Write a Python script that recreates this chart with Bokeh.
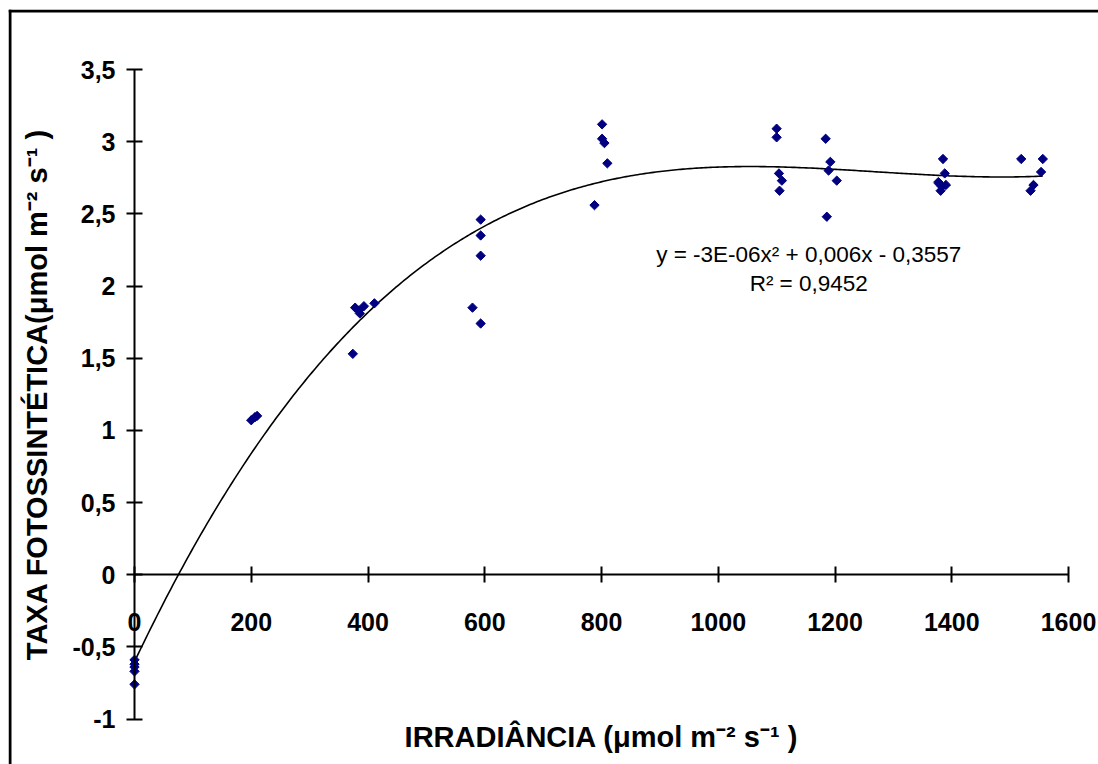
import numpy as np
from bokeh.plotting import figure
from bokeh.models import Range1d, FixedTicker, CustomJSTickFormatter, Label, Span
from bokeh.embed import file_html
from bokeh.resources import INLINE

# Irradiance levels (µmol m-2 s-1) and measured photosynthetic rates
irradiance = [0, 0, 0, 0, 0,
              200, 206, 210,
              374, 378, 384, 386, 393, 411,
              579, 593, 593, 593, 593,
              788, 801, 801, 805, 810,
              1100, 1100, 1104, 1109, 1105,
              1184, 1192, 1189, 1203, 1186,
              1385, 1388, 1377, 1390, 1383, 1381, 1378,
              1519, 1556, 1553, 1540, 1535]
photo_rate = [-0.59, -0.62, -0.64, -0.67, -0.76,
              1.07, 1.09, 1.10,
              1.53, 1.85, 1.83, 1.81, 1.86, 1.88,
              1.85, 1.74, 2.21, 2.35, 2.46,
              2.56, 3.12, 3.02, 2.99, 2.85,
              3.09, 3.03, 2.78, 2.73, 2.66,
              3.02, 2.86, 2.80, 2.73, 2.48,
              2.88, 2.78, 2.72, 2.70, 2.69, 2.66, 2.71,
              2.88, 2.88, 2.79, 2.70, 2.66]

x_ticks = [0, 200, 400, 600, 800, 1000, 1200, 1400, 1600]
y_ticks = [-1, -0.5, 0, 0.5, 1, 1.5, 2, 2.5, 3, 3.5]

x_title = "IRRADIÂNCIA (μmol m⁻² s⁻¹ )"
y_title = "TAXA FOTOSSINTÉTICA(μmol m⁻² s⁻¹ )"
equation_text = "y = -3E-06x² + 0,006x - 0,3557"
r2_text = "R² = 0,9452"

# polynomial trend through the measurements
coef = np.polyfit(irradiance, photo_rate, 3)
trend_x = np.linspace(0, max(irradiance), 400)
trend_y = np.polyval(coef, trend_x)

FONT = "Liberation Sans"

# page geometry: chart area starts a few pixels in and runs off the right/bottom edge
W, H = 1098, 764
FRAME_L, FRAME_T = 8, 9
AX_X0, AX_X1 = 134, 1068      # pixel columns of x = 0 and x = 1600
AX_Y35, AX_YM1 = 69, 718.5    # pixel rows of y = 3.5 and y = -1
px_per_x = (AX_X1 - AX_X0) / (x_ticks[-1] - x_ticks[0])
px_per_y = (AX_YM1 - AX_Y35) / (y_ticks[-1] - y_ticks[0])
x_start = x_ticks[0] - (AX_X0 - FRAME_L) / px_per_x
x_end = x_start + (W - FRAME_L) / px_per_x
y_end = y_ticks[-1] + (AX_Y35 - FRAME_T) / px_per_y
y_start = y_end - (H - FRAME_T) / px_per_y

p = figure(width=W, height=H,
           x_range=Range1d(x_start, x_end), y_range=Range1d(y_start, y_end),
           output_backend="svg", toolbar_location=None,
           min_border_left=FRAME_L, min_border_right=0,
           min_border_top=FRAME_T, min_border_bottom=0)
p.grid.visible = False
p.background_fill_color = "white"
p.border_fill_color = "white"
p.outline_line_color = None

# heavy chart-area border along the top and left edges
p.add_layout(Span(location=y_end - 1.5 / px_per_y, dimension="width",
                  line_color="black", line_width=3))
p.add_layout(Span(location=x_start + 1.5 / px_per_x, dimension="height",
                  line_color="black", line_width=3))

xa = p.xaxis[0]
xa.fixed_location = 0
xa.bounds = (x_ticks[0], x_ticks[-1])
xa.ticker = FixedTicker(ticks=x_ticks)
ya = p.yaxis[0]
ya.fixed_location = 0
ya.bounds = (y_ticks[0], y_ticks[-1])
ya.ticker = FixedTicker(ticks=y_ticks)
ya.formatter = CustomJSTickFormatter(code="return tick.toString().replace('.', ',')")

for ax in (xa, ya):
    ax.axis_line_color = "black"
    ax.axis_line_width = 2
    ax.major_tick_line_color = "black"
    ax.major_tick_line_width = 2
    ax.major_tick_in = 8
    ax.major_tick_out = 8
    ax.minor_tick_line_color = None
    ax.major_label_text_font = FONT
    ax.major_label_text_font_style = "bold"
    ax.major_label_text_font_size = "25px"
    ax.major_label_text_color = "black"
    ax.axis_label_text_font = FONT
    ax.axis_label_text_font_style = "bold"
    ax.axis_label_text_font_size = "29px"
    ax.axis_label_text_color = "black"

xa.major_label_standoff = 30
xa.axis_label = x_title
xa.axis_label_standoff = 87
ya.major_label_standoff = 11
ya.axis_label = y_title
ya.axis_label_standoff = 16

p.line(trend_x, trend_y, line_color="black", line_width=1.6)
p.scatter(irradiance, photo_rate, marker="square", angle=np.pi / 4, size=6.6,
          fill_color="#000080", line_color="#000080", line_width=1)

p.add_layout(Label(x=1155, y=2.22, text=equation_text, text_align="center",
                   text_baseline="middle", text_font=FONT, text_font_size="22.5px",
                   text_color="black"))
p.add_layout(Label(x=1155, y=2.02, text=r2_text, text_align="center",
                   text_baseline="middle", text_font=FONT, text_font_size="22.5px",
                   text_color="black"))

open("out.html", "w").write(file_html(p, INLINE))
